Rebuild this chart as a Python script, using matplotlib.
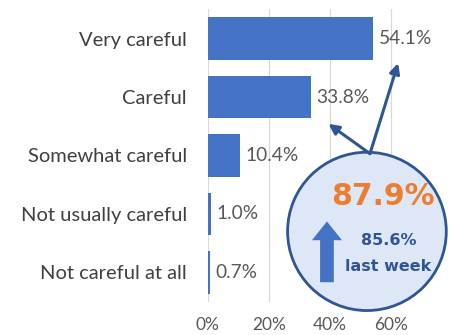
import matplotlib
matplotlib.use("Agg")
from matplotlib import pyplot as plt
from matplotlib.patches import Ellipse

categories = ["Very careful", "Careful", "Somewhat careful", "Not usually careful", "Not careful at all"]
values = [54.1, 33.8, 10.4, 1.0, 0.7]
ticks = [0, 20, 40, 60]
tick_labels = ["0%", "20%", "40%", "60%"]
top_two = "87.9%"
prev_week = "85.6%"

bar_col = "#4472c4"
dark = "#2f5597"
grey = "#595959"

plt.rcParams['font.family'] = ['Lato', 'DejaVu Sans']

fig = plt.figure(figsize=(4.53, 3.35), dpi=100)
ax = fig.add_axes([0.459, 0.10, 0.541, 0.872])

y = list(range(len(categories)))
ax.barh(y, values, height=0.73, color=bar_col, zorder=2)
for yi, v in zip(y, values):
    ax.annotate(f"{v:.1f}%", (v, yi), xytext=(4, 0), textcoords="offset points",
                va="center", ha="left", fontsize=13.8, color=grey, zorder=3)

ax.set_ylim(4.5, -0.5)
ax.set_xlim(0, 80.3)
ax.set_yticks(y)
ax.set_yticklabels(categories, fontsize=14.5, color="#404040")
ax.set_xticks(ticks)
ax.set_xticklabels(tick_labels, fontsize=12.5, color=grey)
ax.tick_params(axis="y", length=0, pad=15)
ax.tick_params(axis="x", length=0, pad=11)
for s in ax.spines.values():
    s.set_visible(False)
ax.grid(axis="x", color="#d9d9d9", linewidth=0.8, zorder=0)
ax.set_axisbelow(True)

# callout bubble
bubble = Ellipse((52.1, 3.30), 52.0, 2.71, facecolor="#dde7f5", edgecolor=dark,
                 linewidth=2, zorder=4, clip_on=False)
ax.add_patch(bubble)
for end in [(62.3, 0.42), (39.5, 1.46)]:
    ax.annotate("", xy=end, xytext=(53.1, 1.97), zorder=5, annotation_clip=False,
                arrowprops=dict(arrowstyle="-|>,head_width=0.3,head_length=0.6",
                                color=dark, linewidth=2.2, shrinkA=0, shrinkB=0))
ax.text(57.2, 2.70, top_two, ha="center", va="center", fontsize=21.5, fontweight="bold",
        color="#ed7d31", family="DejaVu Sans", zorder=6, clip_on=False)
ax.text(59.2, 3.45, prev_week, ha="center", va="center", fontsize=11.5, fontweight="bold",
        color=dark, family="DejaVu Sans", zorder=6, clip_on=False)
ax.text(59.2, 3.90, "last week", ha="center", va="center", fontsize=11.5, fontweight="bold",
        color=dark, family="DejaVu Sans", zorder=6, clip_on=False)
ax.annotate("", xy=(39.0, 3.13), xytext=(39.0, 4.17), zorder=6, annotation_clip=False,
            arrowprops=dict(arrowstyle="simple,head_width=1.2,head_length=0.75,tail_width=0.55",
                            mutation_scale=18, color=bar_col, linewidth=0, shrinkA=0, shrinkB=0))

fig.savefig("out.png", dpi=100)
